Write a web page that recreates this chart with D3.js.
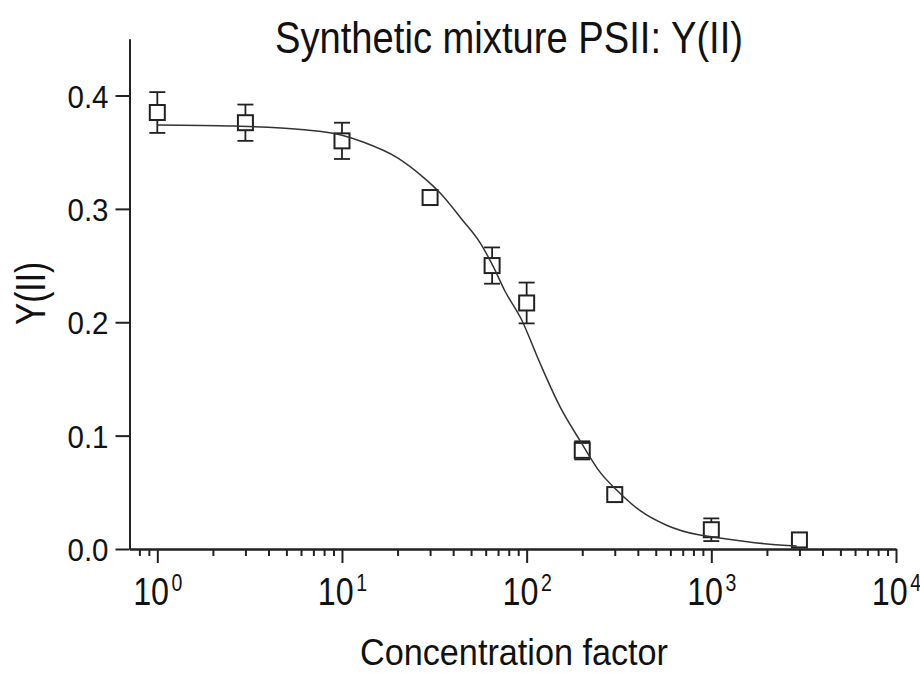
<!DOCTYPE html>
<html>
<head>
<meta charset="utf-8">
<script src="https://cdn.jsdelivr.net/npm/d3@7"></script>
<style>
    body { margin: 0; background: #fff; }
    svg { display: block; font-family: "Liberation Sans", Arial, sans-serif; }
</style>
</head>
<body>
<svg id="chart" width="920" height="673"></svg>
<script>
// measured points
const concentration = [1, 3, 10, 30, 65, 100, 200, 300, 1000, 3000];
const yII = [0.385, 0.376, 0.360, 0.310, 0.250, 0.217, 0.087, 0.048, 0.017, 0.008];
const yErr = [0.018, 0.016, 0.016, 0, 0.016, 0.018, 0.008, 0.001, 0.010, 0];

// fitted curve
const fitX = [1, 2.6, 6, 10, 13, 20, 27.5, 34, 45, 56, 66, 76, 94, 118, 151, 199, 249, 307, 410, 572, 867, 1000, 2000, 2900];
const fitY = [0.374, 0.373, 0.370, 0.365, 0.359, 0.345, 0.328, 0.314, 0.290, 0.270, 0.249, 0.228, 0.202, 0.164, 0.126, 0.093, 0.068, 0.052, 0.034, 0.021, 0.0123, 0.0108, 0.0045, 0.0027];

const majorTicks = [1, 10, 100, 1000, 10000];
const yTicks = [0, 0.1, 0.2, 0.3, 0.4];

const title = "Synthetic mixture PSII: Y(II)";
const xTitle = "Concentration factor";
const yTitle = "Y(II)";

const ink = "#222";
const left = 129.5, right = 896, bottom = 549;

let svg = d3.select("#chart");

let x = d3.scaleLog().domain([0.707, 10000]).range([left, right]);
let y = d3.scaleLinear().domain([0, 0.45]).range([bottom, bottom - 0.45 * 1133.75]);

let minorTicks = [];
for (let e = -1; e < 4; e++) {
    for (let m = 2; m <= 9; m++) {
        let v = m * Math.pow(10, e);
        if (v > 0.707 && v < 10000) minorTicks.push(v);
    }
}

function styleAxis(g) {
    g.select(".domain").attr("stroke", ink).attr("stroke-width", 2);
    g.selectAll(".tick line").attr("stroke", ink).attr("stroke-width", 2);
}

// x axis: minor then major
svg.append("g")
    .attr("transform", `translate(0,${bottom})`)
    .call(d3.axisBottom(x).tickValues(minorTicks).tickSize(7).tickSizeOuter(0).tickFormat(""))
    .call(styleAxis);

let xAxis = svg.append("g")
    .attr("transform", `translate(0,${bottom})`)
    .call(d3.axisBottom(x).tickValues(majorTicks).tickSize(14).tickSizeOuter(0).tickFormat(""))
    .call(styleAxis);

xAxis.selectAll(".tick")
    .append("text")
    .attr("fill", "#111")
    .attr("text-anchor", "middle")
    .attr("transform", "translate(0,56) scale(0.85,1)")
    .each(function (d) {
        let t = d3.select(this);
        t.append("tspan").style("font-size", "38px").text("10");
        t.append("tspan")
            .style("font-size", "23px")
            .attr("dx", 3)
            .attr("dy", -14)
            .text(Math.round(Math.log10(d)));
    });

// y axis
svg.append("g")
    .attr("transform", `translate(${left},0)`)
    .call(d3.axisLeft(y).tickValues(yTicks).tickSize(14).tickSizeOuter(0).tickPadding(7).tickFormat(d3.format(".1f")))
    .call(styleAxis)
    .call(g => g.selectAll(".tick text")
        .attr("font-size", 32)
        .attr("fill", "#111")
        .attr("dy", "0.36em")
        .attr("textLength", 41)
        .attr("lengthAdjust", "spacingAndGlyphs"));

// titles
svg.append("text")
    .attr("x", 509).attr("y", 53)
    .attr("text-anchor", "middle")
    .attr("font-size", 45)
    .attr("fill", "#111")
    .attr("textLength", 468)
    .attr("lengthAdjust", "spacingAndGlyphs")
    .text(title);

svg.append("text")
    .attr("x", 514).attr("y", 665)
    .attr("text-anchor", "middle")
    .attr("font-size", 36)
    .attr("fill", "#111")
    .attr("textLength", 308)
    .attr("lengthAdjust", "spacingAndGlyphs")
    .text(xTitle);

svg.append("text")
    .attr("transform", "translate(45,293.5) rotate(-90)")
    .attr("text-anchor", "middle")
    .attr("font-size", 43)
    .attr("fill", "#111")
    .attr("textLength", 63)
    .attr("lengthAdjust", "spacingAndGlyphs")
    .text(yTitle);

// data
let points = concentration.map((c, i) => ({ c: c, v: yII[i], e: yErr[i] }));
let half = 8;

let bars = svg.append("g")
    .attr("stroke", ink)
    .attr("stroke-width", 1.8)
    .selectAll("g")
    .data(points.filter(p => p.e > 0))
    .join("g");

bars.append("line")
    .attr("x1", p => x(p.c)).attr("x2", p => x(p.c))
    .attr("y1", p => y(p.v + p.e)).attr("y2", p => y(p.v - p.e));
bars.append("line")
    .attr("x1", p => x(p.c) - half).attr("x2", p => x(p.c) + half)
    .attr("y1", p => y(p.v + p.e)).attr("y2", p => y(p.v + p.e));
bars.append("line")
    .attr("x1", p => x(p.c) - half).attr("x2", p => x(p.c) + half)
    .attr("y1", p => y(p.v - p.e)).attr("y2", p => y(p.v - p.e));

svg.append("g")
    .selectAll("rect")
    .data(points)
    .join("rect")
    .attr("x", p => x(p.c) - 7.5)
    .attr("y", p => y(p.v) - 7.5)
    .attr("width", 15)
    .attr("height", 15)
    .attr("fill", "#fff")
    .attr("stroke", ink)
    .attr("stroke-width", 2);

// fitted curve
let fit = fitX.map((c, i) => [c, fitY[i]]);
svg.append("path")
    .datum(fit)
    .attr("fill", "none")
    .attr("stroke", "#333")
    .attr("stroke-width", 1.5)
    .attr("d", d3.line().x(d => x(d[0])).y(d => y(d[1])).curve(d3.curveMonotoneX));
</script>
</body>
</html>
